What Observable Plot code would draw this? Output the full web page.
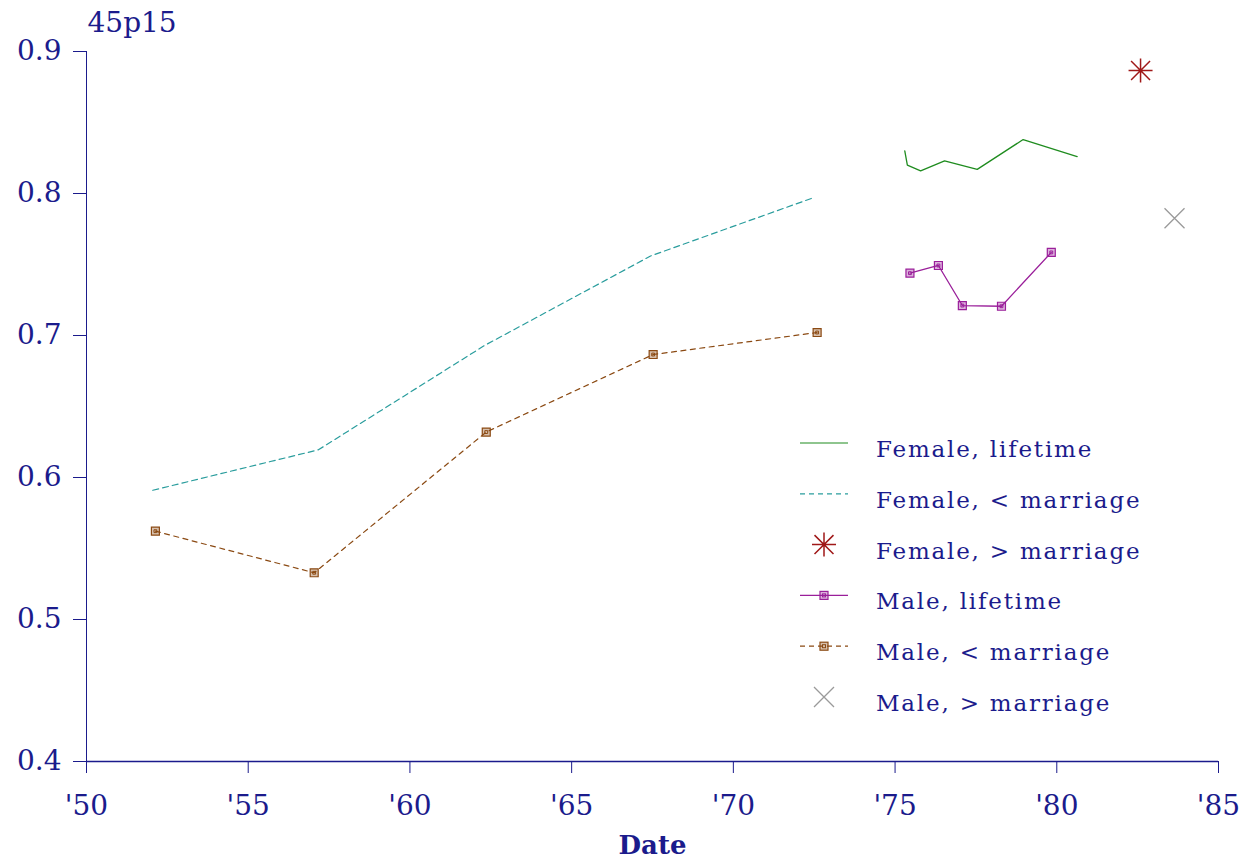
<!DOCTYPE html>
<html><head><meta charset="utf-8">
<script src="https://cdn.jsdelivr.net/npm/d3@7"></script>
<script src="https://cdn.jsdelivr.net/npm/@observablehq/plot@0.6"></script>
<style>
body{margin:0;background:#fff;}
#wrap{position:relative;width:1250px;height:860px;}
#wrap svg{position:absolute;left:0;top:0;}
</style></head><body><div id="wrap"></div>
<script>
// ---- data ----
const title = "45p15";
const xLabel = "Date";
const xTicks = [1950, 1955, 1960, 1965, 1970, 1975, 1980, 1985];
const yTicks = [0.4, 0.5, 0.6, 0.7, 0.8, 0.9];

const femLifeYear = [1975.30, 1975.38, 1975.79, 1976.53, 1977.54, 1978.96, 1980.63];
const femLifeVal  = [0.830, 0.820, 0.816, 0.823, 0.817, 0.838, 0.826];

const femBeforeYear = [1952.05, 1957.17, 1962.31, 1967.44, 1972.47];
const femBeforeVal  = [0.591, 0.6195, 0.693, 0.756, 0.797];

const femAfterYear = [1982.59];
const femAfterVal  = [0.8866];

const maleLifeYear = [1975.46, 1976.34, 1977.08, 1978.29, 1979.83];
const maleLifeVal  = [0.7439, 0.7493, 0.7211, 0.7206, 0.7585];

const maleBeforeYear = [1952.13, 1957.04, 1962.36, 1967.52, 1972.59];
const maleBeforeVal  = [0.5622, 0.5329, 0.632, 0.6866, 0.7021];

const maleAfterYear = [1983.64];
const maleAfterVal  = [0.7826];

const legendLabels = ["Female, lifetime", "Female, < marriage", "Female, > marriage",
                      "Male, lifetime", "Male, < marriage", "Male, > marriage"];

// ---- styles ----
const NAVY = "#1b1b8c";
const C = {
  femLife: "#1f8c1f", femBefore: "#2a9d9d", femAfter: "#a01818",
  maleLife: "#9a1f9a", maleBefore: "#8b4a13", maleAfter: "#9a9a9a"
};
const toRows = (xs, ys) => xs.map((x, i) => ({x, y: ys[i]}));

const asteriskSym = {draw(ctx, size){const r=Math.sqrt(size/Math.PI), d=r*0.79;
  ctx.moveTo(0,-r);ctx.lineTo(0,r);ctx.moveTo(-r,0);ctx.lineTo(r,0);
  ctx.moveTo(-d,-d);ctx.lineTo(d,d);ctx.moveTo(-d,d);ctx.lineTo(d,-d);}};
const timesSym = {draw(ctx, size){const r=Math.sqrt(size/Math.PI);
  ctx.moveTo(-r,-r);ctx.lineTo(r,r);ctx.moveTo(-r,r);ctx.lineTo(r,-r);}};

const fL = toRows(femLifeYear, femLifeVal);
const fB = toRows(femBeforeYear, femBeforeVal);
const fA = toRows(femAfterYear, femAfterVal);
const mL = toRows(maleLifeYear, maleLifeVal);
const mB = toRows(maleBeforeYear, maleBeforeVal);
const mA = toRows(maleAfterYear, maleAfterVal);

function squareMarks(data, color){
  return [
    Plot.dot(data, {x:"x", y:"y", symbol:"square", r:4.5, stroke: color, fill: color, fillOpacity: 0.35, strokeWidth: 1.2}),
    Plot.dot(data, {x:"x", y:"y", symbol:"square", r:1.6, stroke: color, fill: "none", strokeWidth: 1})
  ];
}

const chart = Plot.plot({
  width: 1250, height: 860,
  marginLeft: 86, marginRight: 32, marginTop: 51, marginBottom: 99,
  style: {fontFamily: "'DejaVu Serif', serif", fontSize: "28px", color: NAVY, background: "white"},
  x: {domain: [1950, 1985]},
  y: {domain: [0.4, 0.9]},
  marks: [
    Plot.axisX({ticks: xTicks, tickFormat: d => "'" + String(d).slice(2), tickSize: 12, tickPadding: 22,
                label: null, stroke: NAVY, fill: NAVY, fontSize: 28, style: {letterSpacing: "1.5px"}}),
    Plot.axisY({ticks: yTicks, tickFormat: d => d.toFixed(1), tickSize: 13, tickPadding: 12,
                label: null, stroke: NAVY, fill: NAVY, fontSize: 28, style: {letterSpacing: "1px"}}),
    Plot.ruleX([1950], {stroke: NAVY, strokeWidth: 1}),
    Plot.ruleY([0.4], {stroke: NAVY, strokeWidth: 1.3}),
    Plot.line(fB, {x:"x", y:"y", stroke: C.femBefore, strokeWidth: 1.2, strokeDasharray: "6,4"}),
    Plot.line(mB, {x:"x", y:"y", stroke: C.maleBefore, strokeWidth: 1.2, strokeDasharray: "5,4.5"}),
    ...squareMarks(mB, C.maleBefore),
    Plot.line(fL, {x:"x", y:"y", stroke: C.femLife, strokeWidth: 1.3}),
    Plot.line(mL, {x:"x", y:"y", stroke: C.maleLife, strokeWidth: 1.3}),
    ...squareMarks(mL, C.maleLife),
    Plot.dot(fA, {x:"x", y:"y", symbol: asteriskSym, r: 12, stroke: C.femAfter, strokeWidth: 1.5}),
    Plot.dot(mA, {x:"x", y:"y", symbol: timesSym, r: 10, stroke: C.maleAfter, strokeWidth: 1.3}),
    Plot.text([title], {frameAnchor: "top-left", lineAnchor: "middle", dx: 1, dy: -28, textAnchor: "start", fontSize: 28, fill: NAVY}),
    Plot.text([xLabel], {frameAnchor: "bottom", lineAnchor: "middle", dy: 84, fontSize: 26, fontWeight: "bold", fill: NAVY})
  ]
});
document.getElementById("wrap").appendChild(chart);

// ---- legend (overlay) ----
const lg = d3.create("svg").attr("width", 1250).attr("height", 860)
  .style("pointer-events", "none").style("font-family", "'DejaVu Serif', serif");
const rowY = i => 443 + i * 50.8;
const styles = [
  {c: C.femLife, dash: null, line: true},
  {c: C.femBefore, dash: "5,4", line: true},
  {c: C.femAfter, sym: "asterisk"},
  {c: C.maleLife, dash: null, line: true, marker: true},
  {c: C.maleBefore, dash: "5,4", line: true, marker: true},
  {c: C.maleAfter, sym: "times"}
];
legendLabels.forEach((lab, i) => {
  const y = rowY(i), s = styles[i], g = lg.append("g");
  if (s.line) g.append("line").attr("x1", 800).attr("x2", 848).attr("y1", y).attr("y2", y)
      .attr("stroke", s.c).attr("stroke-width", 1.2).attr("stroke-dasharray", s.dash);
  if (s.marker) {
    g.append("rect").attr("x", 820).attr("y", y-4).attr("width", 8).attr("height", 8)
      .attr("stroke", s.c).attr("fill", s.c).attr("fill-opacity", 0.35).attr("stroke-width", 1.2);
    g.append("rect").attr("x", 822.5).attr("y", y-1.5).attr("width", 3).attr("height", 3)
      .attr("stroke", s.c).attr("fill", "none");
  }
  if (s.sym === "asterisk") {
    const r = 12, d = r*0.79;
    g.append("path").attr("d", `M824,${y-r}V${y+r}M${824-r},${y}H${824+r}M${824-d},${y-d}L${824+d},${y+d}M${824-d},${y+d}L${824+d},${y-d}`)
      .attr("stroke", s.c).attr("stroke-width", 1.5);
  }
  if (s.sym === "times") {
    const r = 10;
    g.append("path").attr("d", `M${824-r},${y-r}L${824+r},${y+r}M${824-r},${y+r}L${824+r},${y-r}`)
      .attr("stroke", s.c).attr("stroke-width", 1.3);
  }
  g.append("text").attr("x", 876).attr("y", y + 14).attr("fill", NAVY)
    .attr("font-size", 23).attr("letter-spacing", "1.8px").text(lab);
});
document.getElementById("wrap").appendChild(lg.node());
</script>
</body></html>
